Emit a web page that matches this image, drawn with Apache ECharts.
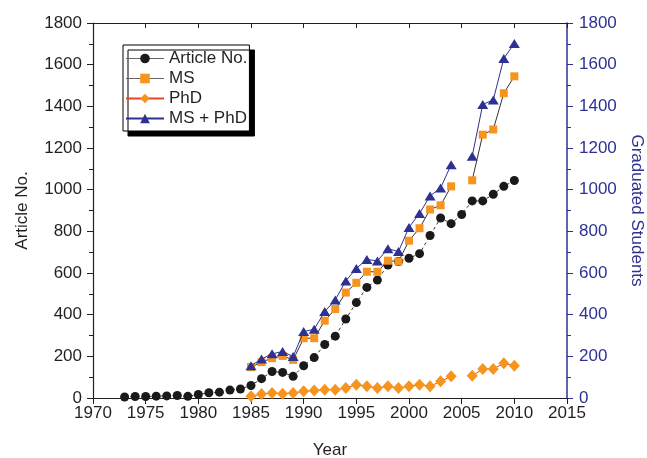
<!DOCTYPE html>
<html>
<head>
<meta charset="utf-8">
<script src="https://cdn.jsdelivr.net/npm/echarts@6/dist/echarts.min.js"></script>
<style>
html,body{margin:0;padding:0;background:#fff;}
#chart{width:647px;height:458px;}
</style>
</head>
<body>
<div id="chart"></div>
<script>
// Article No. (1973-2010)
var articleYears = [1973,1974,1975,1976,1977,1978,1979,1980,1981,1982,1983,1984,1985,1986,1987,1988,1989,1990,1991,1992,1993,1994,1995,1996,1997,1998,1999,2000,2001,2002,2003,2004,2005,2006,2007,2008,2009,2010];
var articleNo = [5,7,7,9,10,12,8,17,25,28,38,43,60,93,127,123,104,155,194,257,297,379,458,531,566,638,655,671,693,780,864,837,881,946,946,978,1016,1044];
// Graduated students (1985-2010), 2005 missing
var studentYears = [1985,1986,1987,1988,1989,1990,1991,1992,1993,1994,1995,1996,1997,1998,1999,2000,2001,2002,2003,2004,2005,2006,2007,2008,2009,2010];
var msGrad = [148,172,191,202,183,287,287,371,427,506,553,606,606,659,655,755,815,905,925,1016,null,1045,1264,1289,1463,1544];
var phdGrad = [8,19,24,21,24,32,36,40,40,48,64,56,48,56,48,56,64,56,80,104,null,107,139,139,167,155];
var msPhdGrad = [155,187,212,223,199,319,330,415,471,562,622,665,658,717,703,819,886,970,1008,1120,null,1160,1409,1431,1630,1702];
var yTicks = [0,200,400,600,800,1000,1200,1400,1600,1800];
var xTicks = [1970,1975,1980,1985,1990,1995,2000,2005,2010,2015];
var seriesNames = ['Article No.','MS','PhD','MS + PhD'];

function pairs(xs, ys){ return xs.map(function(x,i){ return [x, ys[i]]; }); }

var FONT = 'Liberation Sans, Arial, sans-serif';
var NAVY = '#2E3192';
var ORANGE = '#F7941D';
var INK = '#231F20';

var chart = echarts.init(document.getElementById('chart'), null, {renderer:'canvas'});
chart.setOption({
  animation:false,
  backgroundColor:'#fff',
  textStyle:{fontFamily:FONT},
  grid:{left:93, right:80, top:23, bottom:60, containLabel:false, outerBoundsMode:'none'},
  legend:{
    orient:'vertical', left:123, top:45,
    itemWidth:38, itemHeight:12, itemGap:1,
    padding:[4,2,3,2],
    backgroundColor:'#fff', borderColor:'#000', borderWidth:1,
    shadowColor:'#000', shadowBlur:0, shadowOffsetX:5, shadowOffsetY:5,
    textStyle:{fontFamily:FONT, fontSize:17, lineHeight:19, color:INK},
    data:[
      {name:seriesNames[0], lineStyle:{type:'solid', color:'#666', width:1}},
      {name:seriesNames[1], lineStyle:{type:'solid', color:'#666', width:1}},
      {name:seriesNames[2]},
      {name:seriesNames[3]}
    ]
  },
  xAxis:[{
    type:'value', min:1970, max:2015, interval:5,
    name:'Year', nameLocation:'middle', nameGap:44,
    nameTextStyle:{fontFamily:FONT, fontSize:17, color:INK},
    axisLine:{onZero:false, lineStyle:{color:INK, width:1.2}},
    axisTick:{inside:false, length:6, lineStyle:{color:INK}},
    axisLabel:{fontFamily:FONT, fontSize:17, color:INK, margin:7,
      formatter:function(v){ return xTicks.indexOf(v) >= 0 ? String(v) : ''; }},
    splitLine:{show:false}
  },{
    type:'value', min:1970, max:2015, interval:5, position:'top',
    axisLine:{onZero:false, lineStyle:{color:INK, width:1.2}},
    axisTick:{inside:true, length:5, lineStyle:{color:INK}},
    axisLabel:{show:false}, splitLine:{show:false}
  }],
  yAxis:[{
    type:'value', min:0, max:1800, interval:200, position:'left',
    name:'Article No.', nameLocation:'middle', nameGap:62,
    nameTextStyle:{fontFamily:FONT, fontSize:17, color:INK},
    axisLine:{show:true, onZero:false, lineStyle:{color:INK, width:1.2}},
    axisTick:{show:true, length:6, lineStyle:{color:INK}},
    minorTick:{show:true, splitNumber:2, length:4, lineStyle:{color:INK}},
    axisLabel:{fontFamily:FONT, fontSize:17, color:INK, margin:11,
      formatter:function(v){ return yTicks.indexOf(v) >= 0 ? String(v) : ''; }},
    splitLine:{show:false}
  },{
    type:'value', min:0, max:1800, interval:200, position:'right',
    name:'Graduated Students', nameLocation:'middle', nameGap:59, nameRotate:-90,
    nameTextStyle:{fontFamily:FONT, fontSize:17, color:NAVY},
    axisLine:{show:true, onZero:false, lineStyle:{color:NAVY, width:1.5}},
    axisTick:{show:true, length:6, lineStyle:{color:NAVY}},
    minorTick:{show:true, splitNumber:2, length:4, lineStyle:{color:NAVY}},
    axisLabel:{fontFamily:FONT, fontSize:17, color:NAVY, margin:12,
      formatter:function(v){ return yTicks.indexOf(v) >= 0 ? String(v) : ''; }},
    splitLine:{show:false}
  }],
  series:[{
    name:seriesNames[0], type:'line', xAxisIndex:0, yAxisIndex:0,
    data:pairs(articleYears, articleNo),
    symbol:'circle', symbolSize:9,
    itemStyle:{color:'#1a1a1a'},
    lineStyle:{color:'#333', width:1, type:[3,3]},
    z:3
  },{
    name:seriesNames[1], type:'line', xAxisIndex:0, yAxisIndex:1,
    data:pairs(studentYears, msGrad), connectNulls:false,
    symbol:'rect', symbolSize:8,
    itemStyle:{color:ORANGE},
    lineStyle:{color:'#333', width:1},
    z:4
  },{
    name:seriesNames[2], type:'line', xAxisIndex:0, yAxisIndex:1,
    data:pairs(studentYears, phdGrad), connectNulls:false,
    symbol:'diamond', symbolSize:[11,12],
    itemStyle:{color:ORANGE},
    lineStyle:{color:'#EF4123', width:1},
    z:4
  },{
    name:seriesNames[3], type:'line', xAxisIndex:0, yAxisIndex:1,
    data:pairs(studentYears, msPhdGrad), connectNulls:false,
    symbol:'triangle', symbolSize:[11,9],
    itemStyle:{color:NAVY},
    lineStyle:{color:NAVY, width:1},
    z:5
  }]
});
</script>
</body>
</html>
